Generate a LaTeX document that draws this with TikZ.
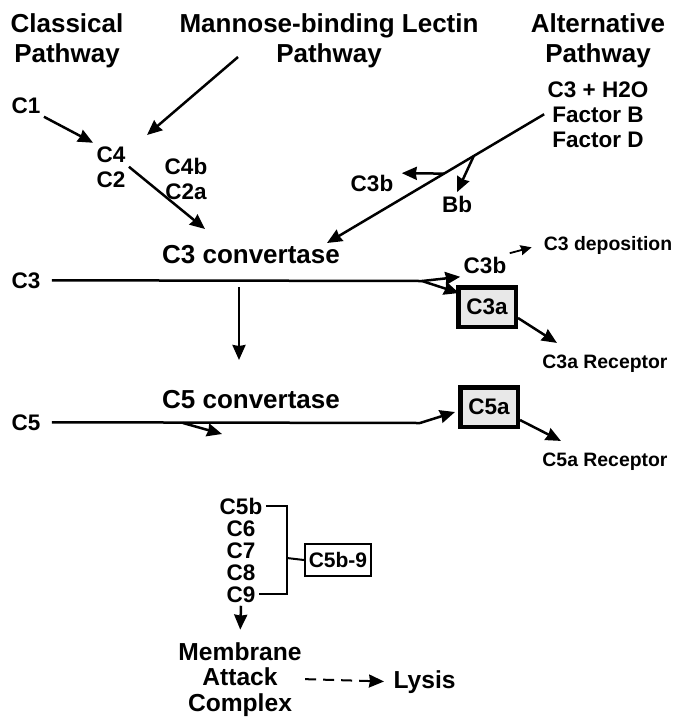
\documentclass[tikz,border=0pt]{standalone}
\usepackage{fontspec}
\setmainfont{Liberation Sans}
\usepackage{tikz}
\usetikzlibrary{arrows.meta}
\usetikzlibrary{calc}
\tikzset{
    cparrow/.style={-{Stealth[length=15pt, width=13pt, inset=1pt]}, line width=2.5pt},
    cpline/.style={line width=2.5pt},
    titletext/.style={font=\fontsize{26}{30}\selectfont\bfseries, align=center, anchor=base},
    labeltext/.style={font=\fontsize{22.5}{25}\selectfont\bfseries, align=center, anchor=base},
    notetext/.style={font=\fontsize{19.4}{22}\selectfont\bfseries, anchor=base},
    fragbox/.style={draw, line width=4.5pt, fill=gray!18, minimum width=57.5pt, minimum height=39.5pt, font=\fontsize{22.5}{25}\selectfont\bfseries}
}

\begin{document}
\begin{tikzpicture}[x=1pt, y=-1pt]
    \useasboundingbox (0,0) rectangle (674,724);

    % pathways (base = last line)
    \node[titletext] (classical) at (67,62) {Classical\\Pathway};
    \node[titletext] (lectin) at (329,62) {Mannose-binding Lectin\\Pathway};
    \node[titletext] (alternative) at (598,62) {Alternative\\Pathway};
    \node[labeltext] (altstart) at (598,147) {C3 + H2O\\Factor B\\Factor D};

    \node[labeltext] (c1) at (26,113) {C1};
    \node[labeltext] (c4c2) at (111,187) {C4\\C2};
    \node[labeltext] (c4bc2a) at (186,199) {C4b\\C2a};
    \node[labeltext] (c3balt) at (372,191) {C3b};
    \node[labeltext] (bb) at (457,212) {Bb};

    % convertases
    \node[titletext] (c3conv) at (251,263) {C3 convertase};
    \node[labeltext] (c3) at (26,288) {C3};
    \node[labeltext] (c3b) at (485,273) {C3b};
    \node[notetext] (c3dep) at (608,250) {C3 deposition};
    \node[fragbox] (c3a) at (487,307) {C3a};
    \node[notetext] (c3arec) at (605,368) {C3a Receptor};

    \node[titletext] (c5conv) at (251,408) {C5 convertase};
    \node[labeltext] (c5) at (26,430) {C5};
    \node[fragbox] (c5a) at (489,407) {C5a};
    \node[notetext] (c5arec) at (605,466) {C5a Receptor};

    % terminal components
    \node[labeltext] (c5b) at (241,514) {C5b};
    \node[labeltext] (c6) at (241,536) {C6};
    \node[labeltext] (c7) at (241,558) {C7};
    \node[labeltext] (c8) at (241,580) {C8};
    \node[labeltext] (c9) at (241,602) {C9};
    \node[draw, line width=2pt, minimum width=66pt, minimum height=32pt, font=\fontsize{21}{24}\selectfont\bfseries] (c5b9) at (338,560) {C5b-9};
    \node[labeltext, font=\fontsize{24.6}{25.5}\selectfont\bfseries] (mac) at (240,711) {Membrane\\Attack\\Complex};
    \node[labeltext, font=\fontsize{24.6}{25.5}\selectfont\bfseries, anchor=base west] (lysis) at (390,688) {Lysis};

    \coordinate (lectinout) at (238,57);
    \coordinate (c4in) at (147,135);
    \coordinate (c3convin) at (205,229);
    \coordinate (altend) at (327,243);
    \coordinate (c3split) at (422,281);
    \coordinate (c3react) at (239,287);
    \coordinate (c5convin) at (239,360);
    \coordinate (c5split) at (420,423);
    \coordinate (c5cut) at (183,423);
    \coordinate (c5cutend) at (222,434);
    \coordinate (bracket) at (287,558);

    \draw[cparrow] (c1.south east) -- (c4c2.north west);
    \draw[cparrow] (lectinout) -- (c4in);
    \draw[cparrow] (c4c2.east) -- (c3convin);
    \draw[cparrow] (altstart.west) -- (altend) coordinate[pos=0.324] (bbfork) coordinate[pos=0.461] (c3bfork);
    \draw[cparrow] (bbfork) -- (bb.north);
    \draw[cparrow] (c3bfork) -- ($(c3balt.north east)+(5,2)$);

    \draw[cpline, shorten <=8pt] (c3.east) -- (c3split);
    \draw[cparrow] (c3split) -- (c3b.south west);
    \draw[cparrow] (c3split) -- ($(c3a.north west)+(3,8)$);
    \draw[cparrow] (c3react) -- (c5convin);
    \draw[-{Stealth[length=11pt, width=10pt, inset=1pt]}, line width=1.8pt, shorten >=9pt] (c3b.north east) -- (c3dep.west);
    \draw[cparrow] ($(c3a.east)+(0,11)$) -- ($(c3arec.north west)+(18,-8)$);

    \draw[cpline, shorten <=8pt] (c5.east) -- (c5split);
    \draw[cparrow] (c5split) -- ($(c5a.west)+(-3,5)$);
    \draw[cparrow] (c5cut) -- (c5cutend);
    \draw[cparrow] ($(c5a.east)+(0,13)$) -- ($(c5arec.north west)+(22,-8)$);

    \draw[line width=2pt] (c5b.east) -| (bracket) |- (c9.east);
    \draw[line width=2pt] (bracket) -- (c5b9.west);
    \draw[cparrow, shorten >=9pt] (c9.south) -- (mac.north);
    \draw[cparrow, dashed, dash pattern=on 11pt off 7pt, line width=2pt, shorten >=6pt] (mac.east) -- (lysis.west);
\end{tikzpicture}
\end{document}
